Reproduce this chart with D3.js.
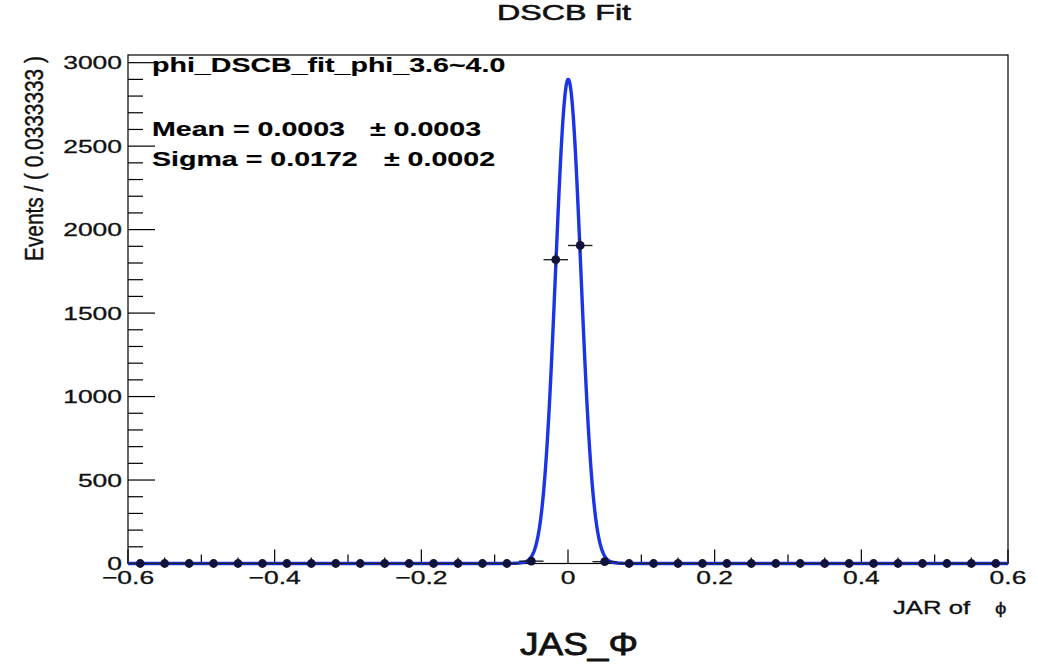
<!DOCTYPE html>
<html>
<head>
<meta charset="utf-8">
<script src="https://cdn.jsdelivr.net/npm/d3@7/dist/d3.min.js"></script>
<style>
  html, body { margin: 0; padding: 0; background: #ffffff; }
  svg { display: block; }
  text { font-family: "Liberation Sans", Arial, Helvetica, sans-serif; fill: #111; stroke: #111; stroke-width: 0.3; }
  text.heavy { stroke-width: 0.15; fill: #000; stroke: #000; }
</style>
</head>
<body>
<svg id="chart" width="1038" height="670"></svg>
<script>
// ---- histogram: phi residuals, 36 bins of width 1/30 on [-0.6, 0.6] ----
const binRange = [-0.6, 0.6];
const binWidth = 0.0333333;
const binCounts = [
  0, 0, 0, 0, 0, 0, 0, 0, 0, 0, 0, 0, 0, 0, 0, 0,
  14, 1820, 1905, 11,
  0, 0, 0, 0, 0, 0, 0, 0, 0, 0, 0, 0, 0, 0, 0, 0
];

// ---- double-sided Crystal Ball fit ----
const fitMean = [0.0003, 0.0003];   // value, error
const fitSigma = [0.0172, 0.0002];  // value, error
const fitPeak = [2900];             // curve height at the mean (events / bin)
const tailAlpha = [3.0, 3.0];       // left, right
const tailN = [10, 10];             // left, right

// ---- axes ----
const xTicks = [-0.6, -0.4, -0.2, 0, 0.2, 0.4, 0.6];
const xTickLabels = ["\u22120.6", "\u22120.4", "\u22120.2", "0", "0.2", "0.4", "0.6"];
const yTicks = [0, 500, 1000, 1500, 2000, 2500, 3000];
const yTickLabels = ["0", "500", "1000", "1500", "2000", "2500", "3000"];
const yMax = 3046;

const titleText = "DSCB Fit";
const yTitleText = "Events / ( 0.0333333 )";
const xTitleText = ["JAR of", "\u03D5"];
const bottomText = "JAS_\u03A6";
const statLines = [
  "phi_DSCB_fit_phi_3.6~4.0",
  "Mean = " + fitMean[0].toFixed(4),
  "Sigma = " + fitSigma[0].toFixed(4)
];
const statErrors = ["\u00B1 " + fitMean[1].toFixed(4), "\u00B1 " + fitSigma[1].toFixed(4)];

// ---- layout ----
const SX = 1.43;            // horizontal stretch of the lettering
const frame = { left: 128, right: 1008, top: 55, bottom: 563.5 };
const curveColor = "#1a34e6";
const pointColor = "#10123a";

const svg = d3.select("#chart");
const x = d3.scaleLinear().domain(binRange).range([frame.left, frame.right]);
const y = d3.scaleLinear().domain([0, yMax]).range([frame.bottom, frame.top]);

function label(g, px, py, str, size, anchor, weight, sx) {
  const t = g.append("text")
    .attr("transform", `translate(${px},${py}) scale(${sx || SX},1)`)
    .attr("text-anchor", anchor || "start")
    .attr("font-size", size)
    .attr("font-weight", weight || "normal")
    .text(str);
  if (weight === "bold") t.attr("class", "heavy");
  return t;
}
function fitted(g, px, py, str, size, width, anchor) {
  const t = g.append("text")
    .attr("text-anchor", anchor || "start")
    .attr("font-size", size)
    .text(str);
  const natural = t.node().getComputedTextLength();
  t.attr("transform", `translate(${px},${py}) scale(${width / natural},1)`);
  return t;
}

// ---- frame ----
svg.append("rect")
  .attr("x", frame.left).attr("y", frame.top)
  .attr("width", frame.right - frame.left).attr("height", frame.bottom - frame.top)
  .attr("fill", "none").attr("stroke", "#000").attr("stroke-width", 1.2);

// ---- y axis: ticks point inward ----
const yAxis = svg.append("g").attr("transform", `translate(${frame.left},0)`);
const yMinor = d3.range(0, yMax, 100);
yAxis.selectAll("line.minor").data(yMinor).join("line")
  .attr("x1", 0).attr("x2", d => (d % 500 === 0 ? 27 : 15))
  .attr("y1", d => y(d)).attr("y2", d => y(d))
  .attr("stroke", "#000").attr("stroke-width", 1.2);
yTicks.forEach((v, i) => {
  label(yAxis, -6, y(v) + 6.6, yTickLabels[i], 18.5, "end");
});

// ---- x axis: ticks point inward ----
const xAxis = svg.append("g").attr("transform", `translate(0,${frame.bottom})`);
const xMinor = d3.range(-12, 13).map(k => k * 0.05);
xAxis.selectAll("line.tick").data(xMinor).join("line")
  .attr("x1", d => x(d)).attr("x2", d => x(d))
  .attr("y1", 0)
  .attr("y2", (d, i) => (i % 4 === 0 ? -14 : (i % 2 === 0 ? -9 : -6)))
  .attr("stroke", "#000").attr("stroke-width", 1.2);
xTicks.forEach((v, i) => {
  label(xAxis, x(v), 20, xTickLabels[i], 18.5, "middle");
});

// ---- data points with error bars ----
const points = binCounts.map((n, i) => ({
  cx: binRange[0] + (i + 0.5) * binWidth,
  n: n,
  lo: n > 0 ? n - Math.sqrt(n) : 0,
  hi: n > 0 ? n + Math.sqrt(n) : 1.15
}));
const dataG = svg.append("g");
dataG.selectAll("line.xerr").data(points).join("line")
  .attr("x1", d => x(d.cx - binWidth / 2)).attr("x2", d => x(d.cx + binWidth / 2))
  .attr("y1", d => y(d.n)).attr("y2", d => y(d.n))
  .attr("stroke", "#222").attr("stroke-width", 1.4);
dataG.selectAll("line.yerr").data(points).join("line")
  .attr("x1", d => x(d.cx)).attr("x2", d => x(d.cx))
  .attr("y1", d => y(d.lo)).attr("y2", d => y(d.hi))
  .attr("stroke", "#222").attr("stroke-width", 1.4);

// ---- fit curve ----
function dscb(v) {
  const t = (v - fitMean[0]) / fitSigma[0];
  if (t < -tailAlpha[0]) {
    const a = tailAlpha[0], n = tailN[0];
    return Math.exp(-a * a / 2) * Math.pow((n / a) / (n / a - a - t), n);
  }
  if (t > tailAlpha[1]) {
    const a = tailAlpha[1], n = tailN[1];
    return Math.exp(-a * a / 2) * Math.pow((n / a) / (n / a - a + t), n);
  }
  return Math.exp(-t * t / 2);
}
const curveX = d3.range(0, 2401).map(k => binRange[0] + k * (binRange[1] - binRange[0]) / 2400);
const line = d3.line().x(d => x(d)).y(d => y(fitPeak[0] * dscb(d)));
svg.append("path").datum(curveX)
  .attr("d", line)
  .attr("fill", "none").attr("stroke", curveColor)
  .attr("stroke-width", 3.4).attr("stroke-linejoin", "round");

dataG.raise();
dataG.selectAll("circle").data(points).join("circle")
  .attr("cx", d => x(d.cx)).attr("cy", d => y(d.n))
  .attr("r", 4.4).attr("fill", pointColor);

// ---- statistics box ----
const stats = svg.append("g");
label(stats, 152, 72, statLines[0], 20, "start", "bold");
label(stats, 152, 136, statLines[1], 20, "start", "bold");
label(stats, 370, 136, statErrors[0], 20, "start", "bold");
label(stats, 152, 166, statLines[2], 20, "start", "bold");
label(stats, 384, 166, statErrors[1], 20, "start", "bold");

// ---- titles ----
label(svg, 564, 19.5, titleText, 22.5, "middle").style("stroke-width", 0.6);

const yTitle = svg.append("text")
  .attr("font-size", 17.5)
  .text(yTitleText);
const yLen = yTitle.node().getComputedTextLength();
yTitle.attr("transform", `translate(43,261) rotate(-90) scale(${205 / yLen},${SX})`);

label(svg, 893, 614, xTitleText[0], 18, "start");
label(svg, 995, 614, xTitleText[1], 17, "start", "normal", 1.2);

fitted(svg, 520, 655, bottomText, 31, 118, "start").style("stroke-width", 0.8);
</script>
</body>
</html>
